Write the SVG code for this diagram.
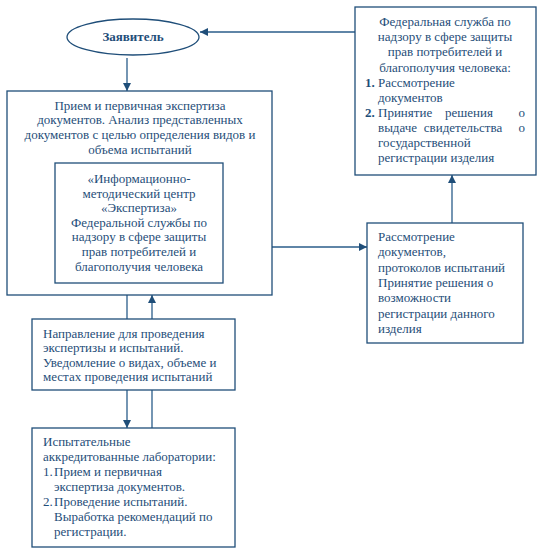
<svg xmlns="http://www.w3.org/2000/svg" width="542" height="553" viewBox="0 0 542 553" font-family="Liberation Serif" font-size="13">
<style>
.box{fill:#fff;stroke:#1f4e79;stroke-width:1.3}
.ln{fill:none;stroke:#2a5d8a;stroke-width:1.3}
.t{fill:#1f4e79}
.c{text-anchor:middle}
.e{text-anchor:end}
.b{font-weight:bold}
</style>
<defs>
<marker id="ah" viewBox="0 0 10 10" refX="10" refY="5" markerWidth="8" markerHeight="8" markerUnits="userSpaceOnUse" orient="auto">
<path d="M0,0 L10,5 L0,10 z" fill="#1f4e79"/>
</marker>
</defs>
<g id="connectors">
<path class="ln" d="M355,32 H200" marker-end="url(#ah)"/>
<path class="ln" d="M127,58 V91" marker-end="url(#ah)"/>
<path class="ln" d="M272,247 H367" marker-end="url(#ah)"/>
<path class="ln" d="M452,223 V175" marker-end="url(#ah)"/>
<path class="ln" d="M127,295 V319"/>
<path class="ln" d="M152,319 V295" marker-end="url(#ah)"/>
<path class="ln" d="M127,390 V428" marker-end="url(#ah)"/>
<path class="ln" d="M152,390 V428"/>
</g>
<g id="applicant" class="t" font-family="Liberation Serif">
<ellipse class="box" cx="133" cy="37" rx="66" ry="18"/>
<text class="c b" x="133" y="41">Заявитель</text>
</g>
<g id="federal" class="t" font-family="Liberation Serif">
<rect class="box" x="355" y="7" width="181" height="168"/>
<text class="c" x="445" y="26">Федеральная служба по</text>
<text class="c" x="445" y="41">надзору в сфере защиты</text>
<text class="c" x="445" y="56">прав потребителей и</text>
<text class="c" x="445" y="71.5">благополучия человека:</text>
<text class="b" x="365" y="86.5">1.</text>
<text x="378" y="86.5">Рассмотрение</text>
<text x="378" y="101.5">документов</text>
<text class="b" x="365" y="116.5">2.</text>
<text x="378" y="116.5">Принятие</text>
<text class="c" x="469" y="116.5">решения</text>
<text class="e" x="525" y="116.5">о</text>
<text x="378" y="131.5">выдаче</text>
<text class="c" x="463" y="131.5">свидетельства</text>
<text class="e" x="525" y="131.5">о</text>
<text x="378" y="147">государственной</text>
<text x="378" y="162">регистрации изделия</text>
</g>
<g id="reception" class="t" font-family="Liberation Serif">
<rect class="box" x="7" y="91" width="265" height="204"/>
<text class="c" x="140" y="109.5">Прием и первичная экспертиза</text>
<text class="c" x="140" y="124">документов. Анализ представленных</text>
<text class="c" x="140" y="139">документов с целью определения видов и</text>
<text class="c" x="140" y="153.5">объема испытаний</text>
</g>
<g id="center" class="t" font-family="Liberation Serif">
<rect class="box" x="55" y="163" width="168" height="120"/>
<text class="c" x="139" y="183">«Информационно-</text>
<text class="c" x="139" y="197.6">методический центр</text>
<text class="c" x="139" y="212.2">«Экспертиза»</text>
<text class="c" x="139" y="226.8">Федеральной службы по</text>
<text class="c" x="139" y="241.4">надзору в сфере защиты</text>
<text class="c" x="139" y="256">прав потребителей и</text>
<text class="c" x="139" y="270.6">благополучия человека</text>
</g>
<g id="review" class="t" font-family="Liberation Serif">
<rect class="box" x="367" y="223" width="156" height="120"/>
<text x="378" y="241">Рассмотрение</text>
<text x="378" y="256.3">документов,</text>
<text x="378" y="271.6">протоколов испытаний</text>
<text x="378" y="286.9">Принятие решения о</text>
<text x="378" y="302.2">возможности</text>
<text x="378" y="317.5">регистрации данного</text>
<text x="378" y="332.8">изделия</text>
</g>
<g id="direction" class="t" font-family="Liberation Serif">
<rect class="box" x="32" y="319" width="203" height="71"/>
<text x="43" y="338">Направление для проведения</text>
<text x="43" y="352.4">экспертизы и испытаний.</text>
<text x="43" y="366.8">Уведомление о видах, объеме и</text>
<text x="43" y="381.2">местах проведения испытаний</text>
</g>
<g id="labs" class="t" font-family="Liberation Serif">
<rect class="box" x="32" y="428" width="203" height="119"/>
<text x="43" y="446">Испытательные</text>
<text x="43" y="461">аккредитованные лаборатории:</text>
<text x="43" y="476">1.</text>
<text x="54" y="476">Прием и первичная</text>
<text x="54" y="491">экспертиза документов.</text>
<text x="43" y="506">2.</text>
<text x="54" y="506">Проведение испытаний.</text>
<text x="54" y="521">Выработка рекомендаций по</text>
<text x="54" y="536">регистрации.</text>
</g>
</svg>
